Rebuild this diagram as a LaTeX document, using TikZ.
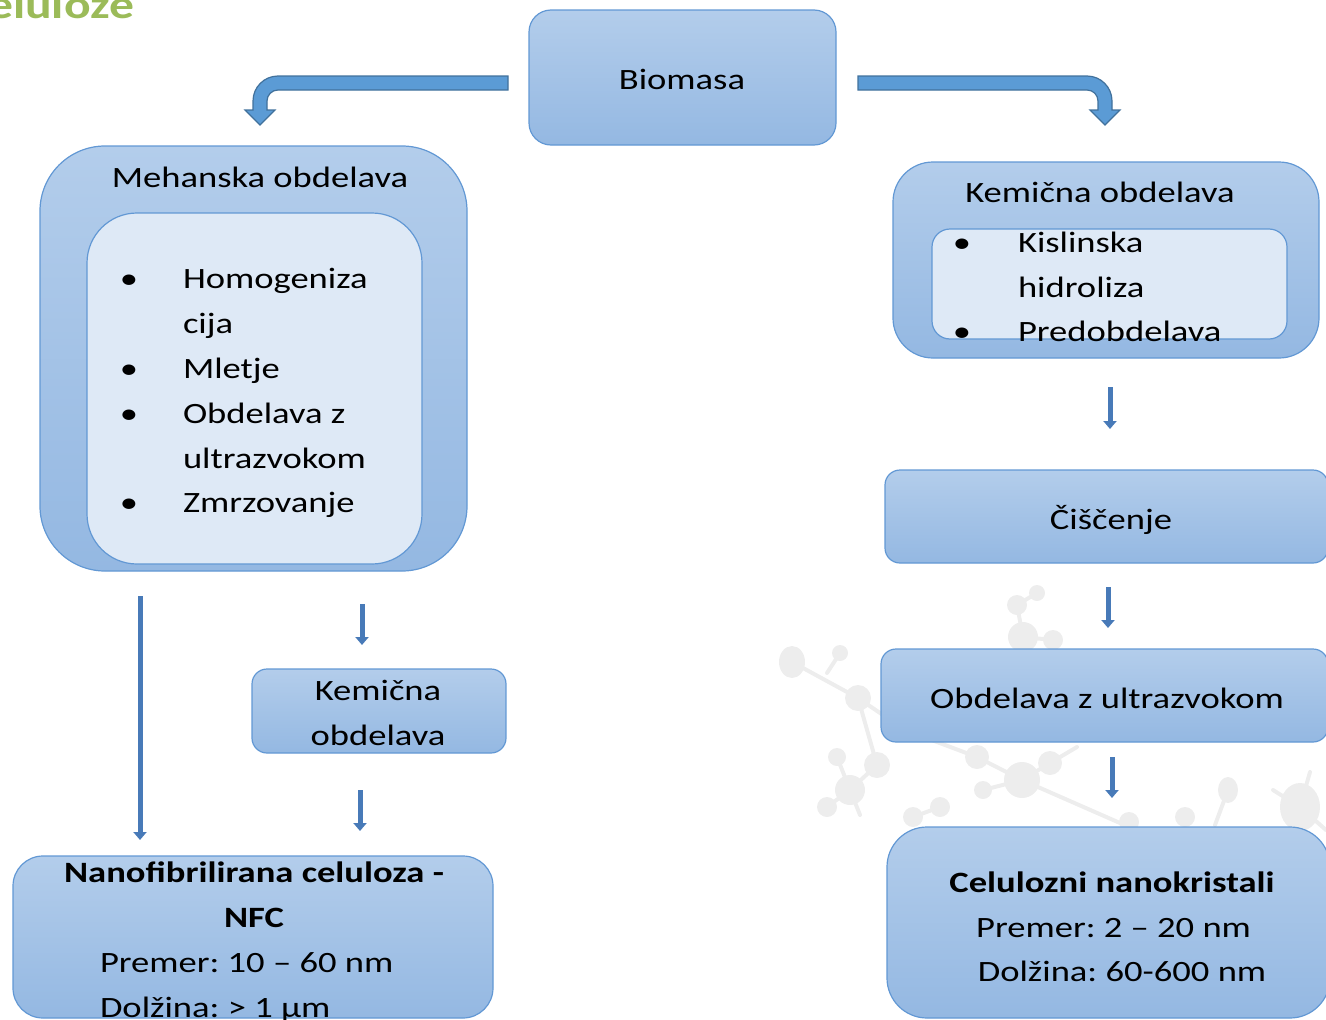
\documentclass[tikz,border=0pt]{standalone}
\usepackage{fontspec}
\setmainfont{Carlito}[FakeStretch=1.24]
\usetikzlibrary{arrows.meta}
\frenchspacing

\definecolor{boxtop}{RGB}{179,205,235}
\definecolor{boxbot}{RGB}{148,184,226}
\definecolor{boxline}{RGB}{98,152,212}
\definecolor{innerfill}{RGB}{222,233,246}
\definecolor{bentfill}{RGB}{91,155,213}
\definecolor{bentline}{RGB}{65,113,156}
\definecolor{arrfill}{RGB}{72,122,184}
\definecolor{titlegreen}{RGB}{155,187,89}
\definecolor{mol}{RGB}{237,237,237}

\tikzset{
  every node/.style={inner sep=0pt, outer sep=0pt},
  txt/.style={anchor=base, font=\fontsize{29.5}{45}\selectfont},
  txtl/.style={txt, anchor=base west},
  boldtxt/.style={txt, font=\fontsize{29.5}{45}\selectfont\bfseries},
  box/.style={draw=boxline, line width=1.2pt, top color=boxtop, bottom color=boxbot},
  inbox/.style={draw=boxline, line width=1.2pt, fill=innerfill},
  bentarrow/.style={draw=bentline, line width=1.2pt, fill=bentfill, line join=miter},
  smallarr/.style={draw=arrfill, line width=5pt, -{Triangle[width=13pt,length=8pt]}},
  molbond/.style={draw=mol, line width=4pt, line cap=round},
  molatom/.style={fill=mol},
}

\begin{document}
\begin{tikzpicture}[x=1pt, y=-1pt]
\useasboundingbox (0,0) rectangle (1326,1020);
\clip (0,0) rectangle (1326,1020);

% faint molecule watermark in the lower right
\begin{scope}
  \draw[molbond] (792,662) -- (858,698) -- (905,730) -- (977,757) -- (1022,780) -- (1120,823);
  \draw[molbond] (840,653) -- (827,673);
  \draw[molbond] (858,698) -- (877,765) -- (850,790) -- (827,807);
  \draw[molbond] (850,790) -- (860,815);
  \draw[molbond] (837,757) -- (850,790);
  \draw[molbond] (1017,605) -- (1023,637) -- (1053,640);
  \draw[molbond] (1037,593) -- (1017,605);
  \draw[molbond] (1022,780) -- (1050,763) -- (1077,747);
  \draw[molbond] (1022,780) -- (983,790);
  \draw[molbond] (940,807) -- (913,817);
  \draw[molbond] (1228,790) -- (1215,825);
  \draw[molbond] (1310,772) -- (1300,807) -- (1326,830);
  \draw[molbond] (1273,790) -- (1300,807);
  \fill[molatom] (792,662) ellipse[x radius=13, y radius=16];
  \fill[molatom] (840,653) circle[radius=8];
  \fill[molatom] (858,698) circle[radius=13];
  \fill[molatom] (1037,593) circle[radius=8];
  \fill[molatom] (1017,605) circle[radius=10];
  \fill[molatom] (1023,637) circle[radius=15];
  \fill[molatom] (1053,640) circle[radius=10];
  \fill[molatom] (837,757) circle[radius=9];
  \fill[molatom] (877,765) circle[radius=13];
  \fill[molatom] (850,790) circle[radius=15];
  \fill[molatom] (827,807) circle[radius=10];
  \fill[molatom] (977,757) circle[radius=12];
  \fill[molatom] (1022,780) circle[radius=18];
  \fill[molatom] (1050,763) circle[radius=12];
  \fill[molatom] (983,790) circle[radius=9];
  \fill[molatom] (940,807) circle[radius=10];
  \fill[molatom] (913,817) circle[radius=10];
  \fill[molatom] (1129,822) circle[radius=10];
  \fill[molatom] (1228,790) ellipse[x radius=10, y radius=13];
  \fill[molatom] (1185,817) circle[radius=10];
  \fill[molatom] (1300,807) ellipse[x radius=20, y radius=24];
\end{scope}

% heading fragment
\node[anchor=base east, text=titlegreen, font=\fontsize{40}{44}\selectfont\bfseries] (title) at (134,18) {celuloze};

% top node
\node[box, rounded corners=22pt, minimum width=307pt, minimum height=135pt] (bio) at (682.5,77.5) {};
\node[txt] (biot) at (682,89) {Biomasa};

% bent arrows leaving the top node
\draw[bentarrow] (508,76) -- (278,76) arc[start angle=270, end angle=180, radius=25]
  -- (253,110) -- (245,110) -- (260,125) -- (275,110) -- (267,110) -- (267,101)
  arc[start angle=180, end angle=270, radius=11] -- (508,90) -- cycle;
\draw[bentarrow] (858,76) -- (1087,76) arc[start angle=270, end angle=360, radius=25]
  -- (1112,110) -- (1120,110) -- (1105,125) -- (1090,110) -- (1098,110) -- (1098,101)
  arc[start angle=0, end angle=-90, radius=11] -- (858,90) -- cycle;

% mechanical branch
\node[box, rounded corners=65pt, minimum width=427pt, minimum height=425pt] (meh) at (253.5,358.5) {};
\node[inbox, rounded corners=50pt, minimum width=335pt, minimum height=351pt] (mehin) at (254.5,388.5) {};
\node[txt] (meht) at (260,187) {Mehanska obdelava};
\node[txt] (b1) at (129,288) {•};
\node[txtl] (l1) at (183,288) {Homogeniza};
\node[txtl] (l2) at (183,333) {cija};
\node[txt] (b2) at (129,378) {•};
\node[txtl] (l3) at (183,378) {Mletje};
\node[txt] (b3) at (129,423) {•};
\node[txtl] (l4) at (183,423) {Obdelava z};
\node[txtl] (l5) at (183,468) {ultrazvokom};
\node[txt] (b4) at (129,512) {•};
\node[txtl] (l6) at (183,512) {Zmrzovanje};

\node[box, rounded corners=15pt, minimum width=254pt, minimum height=84pt] (kemL) at (379,711) {};
\node[txt] (kemL1) at (378,700) {Kemična};
\node[txt] (kemL2) at (378,745) {obdelava};

\node[box, rounded corners=30pt, minimum width=480pt, minimum height=162pt] (nfc) at (253,937) {};
\node[boldtxt] (nfc1) at (254,882) {Nanofibrilirana celuloza -};
\node[boldtxt] (nfc2) at (254,927) {NFC};
\node[txtl] (nfc3) at (100,972) {Premer: 10 – 60 nm};
\node[txtl] (nfc4) at (100,1017) {Dolžina: > 1 µm};

% chemical branch
\node[box, rounded corners=40pt, minimum width=426pt, minimum height=196pt] (kemR) at (1106,260) {};
\node[inbox, rounded corners=18pt, minimum width=355pt, minimum height=110pt] (kemRin) at (1109.5,284) {};
\node[txt] (kemRt) at (1100,202) {Kemična obdelava};
\node[txt] (k1) at (962,252) {•};
\node[txtl] (k2) at (1018,252) {Kislinska};
\node[txtl] (k3) at (1018,297) {hidroliza};
\node[txt] (k4) at (962,341) {•};
\node[txtl] (k5) at (1018,341) {Predobdelava};

\node[box, rounded corners=15pt, minimum width=443pt, minimum height=93pt] (cis) at (1106.5,516.5) {};
\node[txt] (cist) at (1111,529) {Čiščenje};

\node[box, rounded corners=15pt, minimum width=447pt, minimum height=93pt] (ult) at (1104.5,695.5) {};
\node[txt] (ultt) at (1107,708) {Obdelava z ultrazvokom};

\node[box, rounded corners=40pt, minimum width=443pt, minimum height=191pt] (cnc) at (1108.5,922.5) {};
\node[boldtxt] (cnc1) at (1112,892) {Celulozni nanokristali};
\node[txt] (cnc2) at (1113.5,937) {Premer: 2 – 20 nm};
\node[txt] (cnc3) at (1122,981) {Dolžina: 60-600 nm};

% small arrows between the steps
\coordinate (aLs) at (140,596);  \coordinate (aLe) at (140,840);
\coordinate (aM1s) at (362,604); \coordinate (aM1e) at (362,645);
\coordinate (aM2s) at (360,790); \coordinate (aM2e) at (360,831);
\coordinate (aR1s) at (1110,387); \coordinate (aR1e) at (1110,429);
\coordinate (aR2s) at (1108,587); \coordinate (aR2e) at (1108,628);
\coordinate (aR3s) at (1112,757); \coordinate (aR3e) at (1112,798);
\draw[smallarr] (aLs) -- (aLe);
\draw[smallarr] (aM1s) -- (aM1e);
\draw[smallarr] (aM2s) -- (aM2e);
\draw[smallarr] (aR1s) -- (aR1e);
\draw[smallarr] (aR2s) -- (aR2e);
\draw[smallarr] (aR3s) -- (aR3e);
\end{tikzpicture}
\end{document}
